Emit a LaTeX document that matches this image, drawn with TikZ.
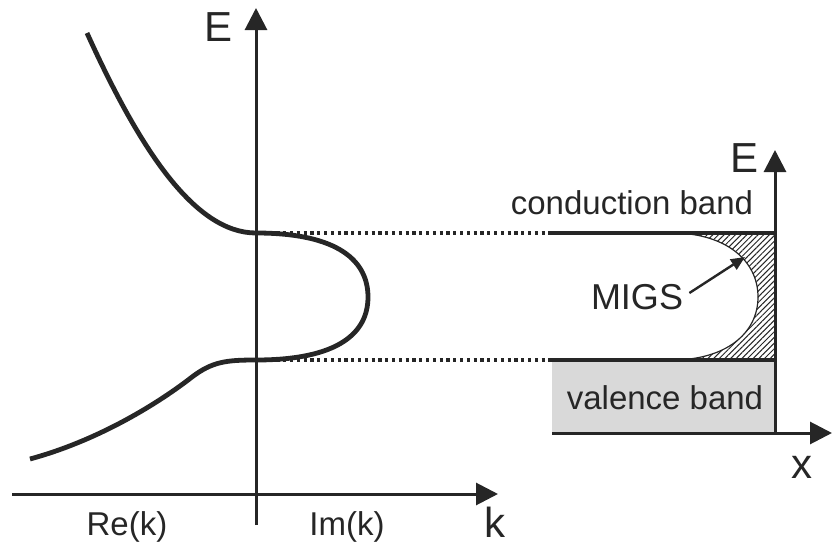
\documentclass[tikz,border=0pt]{standalone}
\usepackage{fontspec}
\setmainfont{Liberation Sans}
\usepackage{tikz}
\usetikzlibrary{arrows.meta, patterns.meta, calc}

\definecolor{ink}{HTML}{262626}
\definecolor{bandgray}{HTML}{D9D9D9}

\begin{document}
\begin{tikzpicture}[
    x=0.5pt, y=-0.5pt,
    axis/.style={draw=ink, line width=1.5pt, -{Triangle[length=11pt, width=11pt]}},
    curve/.style={draw=ink, line width=2.4pt},
    band/.style={draw=ink, line width=1.6pt},
    level/.style={draw=ink, line width=1.8pt, dash pattern=on 1.6pt off 1.8pt},
    label/.style={text=ink, inner sep=0pt, font=\fontsize{16.5}{18}\selectfont},
    axlabel/.style={text=ink, inner sep=0pt, font=\fontsize{21}{24}\selectfont}
]
\useasboundingbox (0,0) rectangle (832,546);
% Left — complex band structure
\coordinate (k_bot) at (256,525);
\coordinate (k_top) at (256,8);
\coordinate (k_left) at (12,494);
\coordinate (k_right) at (498,494);
\coordinate (cb_k) at (256,233);
\coordinate (vb_k) at (256,360);
\draw[axis] (k_bot) -- (k_top);
\draw[axis] (k_left) -- (k_right);
\node[axlabel] (e_left) at (219,27) {E};
\node[axlabel] (k_lab) at (495,522) {k};
\node[label] (re_lab) at (127,527) {Re(k)};
\node[label] (im_lab) at (347,527) {Im(k)};
% Right — interface
\coordinate (x_left) at (552,433);
\coordinate (x_right) at (832,433);
\coordinate (o_r) at (775,433);
\coordinate (e_top) at (775,150);
\coordinate (cb_x) at (552,233);
\coordinate (vb_x) at (552,360);
\fill[bandgray] (vb_x) rectangle (o_r);
% MIGS hatching
\path[pattern={Lines[angle=45, distance=2pt, line width=0.5pt]}, pattern color=ink]
    (672,233) .. controls (725,233) and (758,260) .. (758,297)
    .. controls (758,334) and (725,360) .. (672,360) -- (775,360) -- (775,233) -- cycle;
\draw[ink, line width=0.6pt]
    (672,233) .. controls (725,233) and (758,260) .. (758,297)
    .. controls (758,334) and (725,360) .. (672,360);
\draw[level] (cb_k) -- (cb_x);
\draw[level] (vb_k) -- (vb_x);
\draw[band] (cb_x) -- (cb_x -| o_r);
\draw[band] (vb_x) -- (vb_x -| o_r);
\draw[axis] (x_left) -- (x_right);
\draw[axis] (o_r) -- (e_top);
\node[axlabel] (e_right) at (745,158) {E};
\node[axlabel] (x_lab) at (802,467) {x};
\node[label] (cb_lab) at (632,203) {conduction band};
\node[label] (vb_lab) at (665,398) {valence band};
\node[label, font=\fontsize{18}{20}\selectfont] (migs) at (637,297) {MIGS};
\coordinate (migs_tip) at (745,257);
\draw[draw=ink, line width=1.2pt, -{Triangle[length=7pt, width=6pt]}] (migs.east) ++(6,-4) -- (migs_tip);
% Bands
\draw[curve] (87,33) .. controls (140,150) and (195,233) .. (cb_k)
    .. controls (340,233) and (368,262) .. (368,297)
    .. controls (368,332) and (340,360) .. (vb_k)
    .. controls (225,360) and (212,362) .. (192,377)
    .. controls (160,402) and (100,440) .. (30,459);
\end{tikzpicture}
\end{document}
